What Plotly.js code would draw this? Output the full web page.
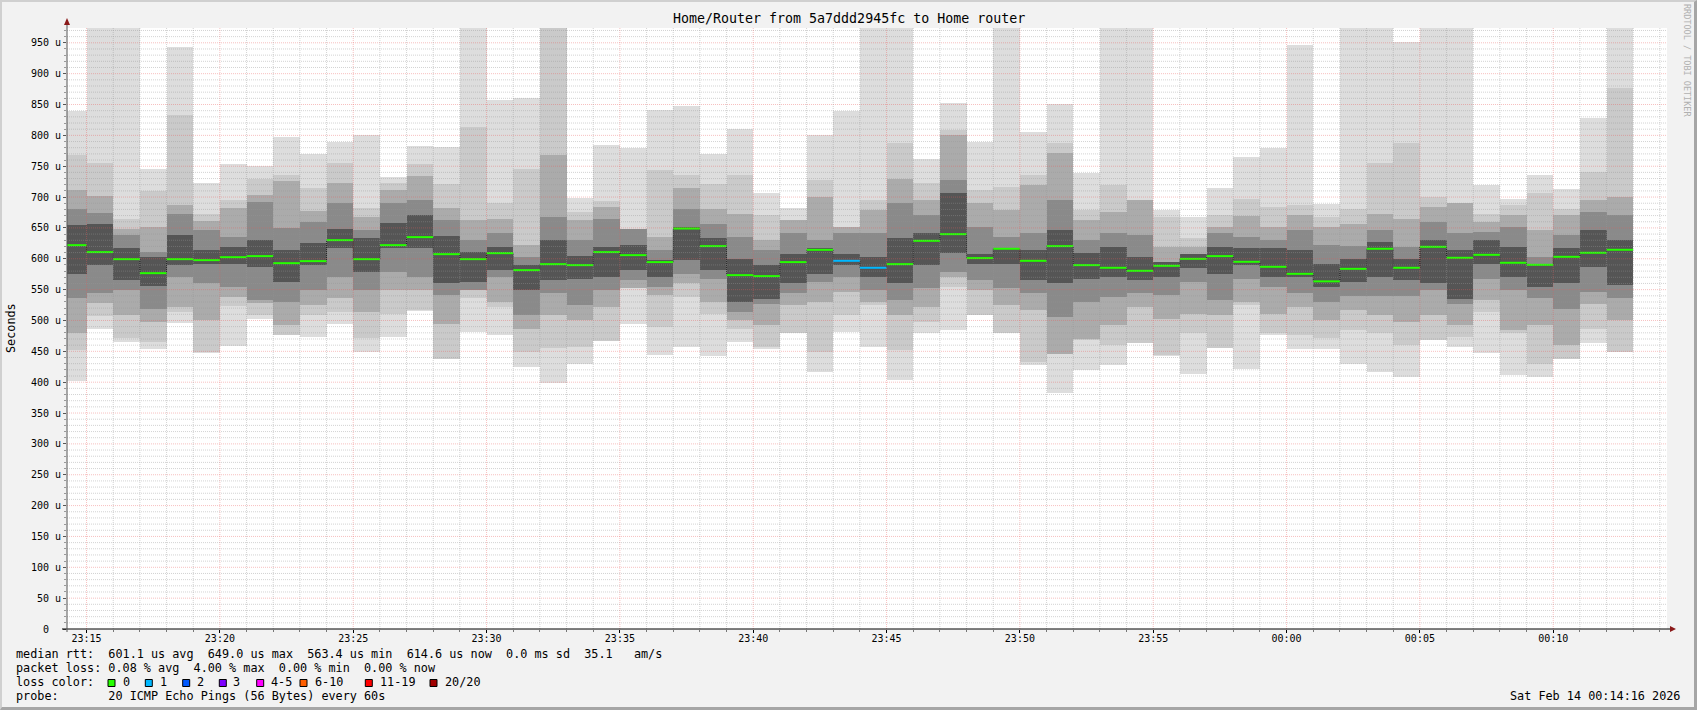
<!DOCTYPE html>
<html><head><meta charset="utf-8">
<script src="https://cdn.plot.ly/plotly-3.0.1.min.js"></script>
<style>
html,body{margin:0;padding:0;background:#f2f2f2;}
#wrap{position:relative;width:1697px;height:710px;overflow:hidden;}
#chart{width:1697px;height:710px;}
#frame{position:absolute;left:0;top:0;width:1697px;height:710px;box-sizing:border-box;border-top:2px solid #d0d0d0;border-left:2px solid #d0d0d0;border-right:3px solid #a6a6a6;border-bottom:3px solid #a6a6a6;pointer-events:none;}
</style>
</head><body><div id="wrap"><div id="chart"></div><div id="frame"></div></div>
<script>
// one-minute slots (start time of each slot)
const slotStart = [
'23:14','23:15','23:16','23:17','23:18','23:19','23:20','23:21','23:22','23:23',
'23:24','23:25','23:26','23:27','23:28','23:29','23:30','23:31','23:32','23:33',
'23:34','23:35','23:36','23:37','23:38','23:39','23:40','23:41','23:42','23:43',
'23:44','23:45','23:46','23:47','23:48','23:49','23:50','23:51','23:52','23:53',
'23:54','23:55','23:56','23:57','23:58','23:59','00:00','00:01','00:02','00:03',
'00:04','00:05','00:06','00:07','00:08','00:09','00:10','00:11','00:12'];

// median rtt (microseconds)
const medianRtt = [622.1,610.8,599.4,576.7,599.4,597.8,602.6,604.3,592.9,596.2,
630.2,599.4,622.1,635.1,607.5,599.4,609.1,581.6,591.3,589.7,
610.8,605.9,594.6,649.0,620.5,573.5,571.9,594.6,614.5,596.7,
585.4,591.3,629.1,639.9,601.1,616.2,596.7,620.5,589.7,585.4,
580.5,588.6,599.9,604.3,595.1,587.0,575.6,563.4,583.7,616.2,
585.4,619.4,601.6,606.4,593.5,590.2,603.2,609.7,614.6];

// lost pings per slot (of 20)
const lostPings = [0,0,0,0,0,0,0,0,0,0, 0,0,0,0,0,0,0,0,0,0, 0,0,0,0,0,0,0,0,0,1,
1,0,0,0,0,0,0,0,0,0, 0,0,0,0,0,0,0,0,0,0, 0,0,0,0,0,0,0,0,0];

// smoke: outer band = min..max ping, inner bands = inner ping ranks (microseconds)
const minRtt = [402,487,465,454,496,448,458,503,476,473, 495,449,473,516,437,482,477,425,399,430,
467,495,444,457,442,465,453,479,417,482, 457,403,479,484,509,479,428,382,419,428,
463,442,414,455,422,477,453,453,430,417, 409,468,457,448,411,409,438,463,449];
const maxRtt = [840,1000,1000,745,943,723,753,750,798,770, 790,800,733,783,781,1000,858,861,1000,699,
784,780,841,847,770,811,707,682,800,840, 1000,1000,761,852,790,1000,805,851,739,1000,
1000,679,668,714,765,780,947,688,1000,1000, 951,1000,1000,719,697,736,713,828,1000];
const band2Lo = [452,508,471,465,514,449,523,509,476,509, 514,471,511,517,438,536,522,449,455,457,
467,552,490,538,511,487,457,479,449,509, 525,452,498,555,509,479,432,446,468,460,
463,444,479,455,525,479,476,471,484,479, 460,468,473,514,479,430,438,487,449];
const band2Hi = [768,756,665,710,833,673,696,730,736,714, 755,682,723,753,721,814,690,746,1000,676,
693,649,744,736,721,736,671,663,727,652, 695,787,722,808,711,717,736,787,679,719,
695,668,633,671,697,684,687,668,681,755, 787,700,690,673,687,706,680,741,876];
const band3Lo = [479,528,509,498,522,500,538,528,492,525, 536,514,550,549,495,549,530,487,509,501,
522,552,541,560,530,500,492,525,530,546, 530,509,522,571,549,525,517,446,470,492,
522,503,511,509,530,511,522,500,517,509, 498,509,492,533,485,492,460,527,500];
const band3Hi = [711,702,649,652,687,661,683,703,726,678, 722,668,711,734,683,663,665,622,768,663,
684,649,636,714,680,673,630,663,700,652, 679,730,695,800,690,679,719,771,663,676,
695,619,619,652,669,652,671,652,657,673, 665,684,690,660,671,646,671,695,700];
const band4Lo = [536,545,549,519,571,561,555,533,530,549, 571,549,579,571,541,549,571,509,544,525,
549,565,555,576,568,514,527,544,563,571, 549,533,552,579,565,552,544,506,530,538,
544,541,563,533,568,555,544,530,540,540, 540,549,527,568,549,536,519,546,536];
const band4Hi = [681,675,638,611,673,646,636,692,650,660, 690,646,690,695,663,630,641,603,668,631,
665,649,614,681,657,636,614,641,630,641, 641,690,671,727,652,636,641,695,630,641,
638,592,603,641,636,630,646,622,620,646, 619,660,641,644,652,603,638,676,671];
const band5Lo = [575,590,565,556,590,592,592,587,563,590, 617,579,617,617,560,563,582,549,565,568,
571,582,571,598,582,530,535,560,576,590, 571,560,590,609,592,592,565,560,568,571,
565,571,585,575,590,570,571,555,563,571, 565,560,535,592,571,555,560,587,557];
const band5Hi = [655,657,618,603,638,615,619,630,614,625, 649,633,658,671,637,611,619,590,631,605,
619,622,598,652,633,600,590,608,617,608, 603,633,641,706,608,617,614,647,609,619,
603,594,608,619,617,617,614,592,600,627, 600,630,614,630,619,592,617,646,630];

const yTickVals = [0,50,100,150,200,250,300,350,400,450,500,550,600,650,700,750,800,850,900,950];
const yTickText = ['0\u00a0\u00a0','50 u','100 u','150 u','200 u','250 u','300 u','350 u','400 u','450 u','500 u','550 u','600 u','650 u','700 u','750 u','800 u','850 u','900 u','950 u'];

const lossLabels = ['0','1','2','3','4-5','6-10','11-19','20/20'];
const lossColors = ['#26ff00','#00b8ff','#0059ff','#7e00ff','#ff00ff','#ff5e00','#ff0000','#a10000'];

const titleText = 'Home/Router from 5a7ddd2945fc to Home router';
const legendLines = [
 'median rtt:  601.1 us avg  649.0 us max  563.4 us min  614.6 us now  0.0 ms sd  35.1   am/s',
 'packet loss: 0.08 % avg  4.00 % max  0.00 % min  0.00 % now',
 'loss color:',
 'probe:       20 ICMP Echo Pings (56 Bytes) every 60s'];
const dateText = 'Sat Feb 14 00:14:16 2026';

// ---------------------------------------------------------------
const p2 = n => String(n).padStart(2,'0');
const fmt = ms => { const d = new Date(ms); return d.getUTCFullYear()+'-'+p2(d.getUTCMonth()+1)+'-'+p2(d.getUTCDate())+' '+p2(d.getUTCHours())+':'+p2(d.getUTCMinutes())+':'+p2(d.getUTCSeconds()); };
const slotMs = slotStart.map(s => { const [h,m] = s.split(':').map(Number); return Date.UTC(2026,1,h===23?13:14,h,m,0); });
const STEP = 60000;
const centers = slotMs.map(t => fmt(t + STEP/2));
const rangeStart = Date.UTC(2026,1,13,23,14,16), rangeEnd = Date.UTC(2026,1,14,0,14,16);

const nb = s => s.replace(/ /g,'\u00a0');
const mono = 'DejaVu Sans Mono';

const layers = [
 [minRtt, maxRtt, '#dddddd'],
 [band2Lo, band2Hi, '#cacaca'],
 [band3Lo, band3Hi, '#ababab'],
 [band4Lo, band4Hi, '#8a8a8a'],
 [band5Lo, band5Hi, '#555555']];
const traces = layers.map(([lo,hi,col]) => ({
  type:'bar', x:centers, base:lo, y:hi.map((h,i)=>h-lo[i]), width:STEP,
  marker:{color:col, line:{width:0}}, hoverinfo:'skip'}));

// median step (thin dark dotted)
traces.push({type:'scatter', mode:'lines',
  x: slotMs.map(fmt).concat([fmt(slotMs[slotMs.length-1]+STEP)]),
  y: medianRtt.concat([medianRtt[medianRtt.length-1]]),
  line:{shape:'hv', color:'#1e1e1e', width:1, dash:'1px,1px'}, hoverinfo:'skip'});

// coloured median segments by loss
const lossIdx = n => n<=3 ? n : n<=5 ? 4 : n<=10 ? 5 : n<=19 ? 6 : 7;
const segs = {};
medianRtt.forEach((m,i) => {
  const c = lossColors[lossIdx(lostPings[i])];
  if (!segs[c]) segs[c] = {x:[],y:[]};
  segs[c].x.push(fmt(slotMs[i]), fmt(slotMs[i]+STEP), null);
  segs[c].y.push(m, m, null);
});
Object.keys(segs).forEach(c => traces.push({type:'scatter', mode:'lines', x:segs[c].x, y:segs[c].y,
  line:{color:c, width:2}, hoverinfo:'skip', connectgaps:false}));

// geometry helpers (pixel -> paper)
const L=67, T=28, W=1600, H=601;
const px = v => (v-L)/W, py = v => (T+H-v)/H;

const shapes = [];
const MINC = 'rgba(150,150,150,0.42)', MAJC = 'rgba(235,90,90,0.38)';
for (let v=10; v<974; v+=10) {
  shapes.push({type:'line', xref:'paper', yref:'y', x0:0, x1:1, y0:v, y1:v, layer:'above',
    line:{color: v%50===0 ? MAJC : MINC, width:1, dash:'1px,1px'}});
}
for (let i=0;i<60;i++) {
  const t = Date.UTC(2026,1,13,23,15) + i*STEP;
  const major = (new Date(t).getUTCMinutes()%5)===0;
  shapes.push({type:'line', xref:'x', yref:'paper', x0:fmt(t), x1:fmt(t), y0:0, y1:1, layer:'above',
    line:{color: major ? MAJC : MINC, width:1, dash:'1px,1px'}});
}
// axis lines and arrows
shapes.push({type:'line', xref:'paper', yref:'paper', x0:px(62), x1:px(1671), y0:0, y1:0, layer:'above', line:{color:'#000', width:1}});
shapes.push({type:'line', xref:'paper', yref:'paper', x0:0, x1:0, y0:py(632), y1:py(22), layer:'above', line:{color:'#555', width:1}});
shapes.push({type:'path', xref:'paper', yref:'paper', layer:'above', fillcolor:'#8b1a1a', line:{width:0},
  path:`M ${px(1670)},${py(626)} L ${px(1676)},${py(629)} L ${px(1670)},${py(632)} Z`});
shapes.push({type:'path', xref:'paper', yref:'paper', layer:'above', fillcolor:'#8b1a1a', line:{width:0},
  path:`M ${px(64)},${py(25)} L ${px(67)},${py(18)} L ${px(70)},${py(25)} Z`});

const annotations = [];
const ann = (text,x,y,o) => annotations.push(Object.assign({text:nb(text), xref:'paper', yref:'paper', x:px(x), y:py(y),
  showarrow:false, xanchor:'left', yanchor:'middle', borderpad:0, borderwidth:0,
  font:{family:mono, size:11.8, color:'#000'}}, o||{}));
ann(titleText, 848.5, 18.5, {xanchor:'center', font:{family:mono, size:13.3, color:'#000'}});
ann('Seconds', 11, 328, {xanchor:'center', textangle:-90, font:{family:mono, size:11.8, color:'#000'}});
ann('RRDTOOL / TOBI OETIKER', 1687, 60, {xanchor:'center', textangle:90, font:{family:mono, size:8.5, color:'#b0b0b0'}});
const lineY = [653.7, 667.8, 682, 696];
legendLines.forEach((s,i) => ann(s, 16, lineY[i]));
ann(dateText, 1680, 695.7, {xanchor:'right'});
const sqX = [108,145.3,182.7,219.3,256.7,300,365.3,430];
const lbX = [123.3,160,196.7,233.3,270.7,315,380,445];
lossLabels.forEach((lb,i) => {
  shapes.push({type:'rect', xref:'paper', yref:'paper', x0:px(sqX[i]), x1:px(sqX[i]+7), y0:py(686.5), y1:py(679.5),
    fillcolor:lossColors[i], line:{color:'#000', width:1}, layer:'above'});
  ann(lb, lbX[i], lineY[2]);
});

const tickFont = {family:mono, size:10, color:'#000'};
const layout = {
  width:1697, height:710, margin:{l:L, r:1697-L-W, t:T, b:710-T-H, pad:0},
  paper_bgcolor:'#f2f2f2', plot_bgcolor:'#ffffff', showlegend:false,
  barmode:'overlay', bargap:0,
  xaxis:{type:'date', range:[fmt(rangeStart), fmt(rangeEnd)], tickformat:'%H:%M',
    tick0:'2026-02-13 23:15:00', dtick:300000, ticks:'outside', ticklen:3, tickcolor:'#000',
    ticklabelstandoff:-3,
    showgrid:false, zeroline:false, showline:false, tickfont:tickFont, fixedrange:true,
    minor:{tick0:'2026-02-13 23:15:00', dtick:60000, ticks:'outside', ticklen:2, tickcolor:'#777', showgrid:false}},
  yaxis:{range:[0,974], tickmode:'array', tickvals:yTickVals, ticktext:yTickText, ticks:'outside', ticklen:3,
    tickcolor:'#555', showgrid:false, zeroline:false, showline:false, tickfont:tickFont, fixedrange:true,
    minor:{tick0:0, dtick:10, ticks:'outside', ticklen:2, tickcolor:'#999', showgrid:false}},
  shapes, annotations
};
Plotly.newPlot('chart', traces, layout, {staticPlot:true, displayModeBar:false});
</script></body></html>
